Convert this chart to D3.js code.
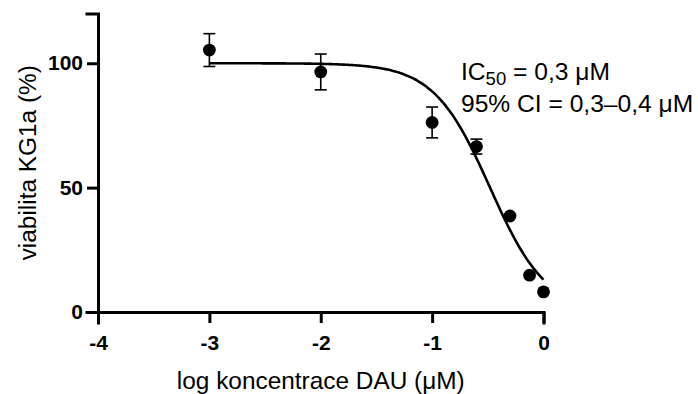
<!DOCTYPE html>
<html>
<head>
<meta charset="utf-8">
<script src="https://cdn.jsdelivr.net/npm/d3@7"></script>
<style>
  body { margin: 0; background: #fff; }
  svg { display: block; font-family: Arial, "Liberation Sans", sans-serif; }
</style>
</head>
<body>
<svg id="chart" width="698" height="394"></svg>
<script>
// data
const xTicks = [-4, -3, -2, -1, 0];
const yTicks = [0, 50, 100];
const logConc = [-3, -2, -1, -0.602, -0.301, -0.125, 0];
const viability = [105.3, 96.5, 76.2, 66.5, 38.6, 14.8, 8.1];
const errSD = [6.6, 7.2, 6.2, 3.0, 0, 0, 0];

// fitted dose-response curve parameters (as drawn)
const fitTop = 100;
const fitBottom = 0;
const fitLogIC50 = -0.48;
const fitHill = 1.72;
const fitRange = [-3, 0];

const svg = d3.select('#chart');

const x = d3.scaleLinear().domain([-4, 0]).range([98, 543.5]);
const y = d3.scaleLinear().domain([0, 120]).range([312, 13.5]);

// axes
const xAxis = svg.append('g')
  .attr('transform', `translate(0,${y(0)})`)
  .call(d3.axisBottom(x).tickValues(xTicks).tickFormat(d3.format('d')).tickSizeOuter(0).tickSize(11).tickPadding(12));
const yAxis = svg.append('g')
  .attr('transform', `translate(${x(-4)},0)`)
  .call(d3.axisLeft(y).tickValues(yTicks).tickSizeOuter(0).tickSize(11).tickPadding(4));

[xAxis, yAxis].forEach((g) => {
  g.select('.domain').attr('stroke', '#000').attr('stroke-width', 3).attr('stroke-linecap', 'square');
  g.selectAll('.tick line').attr('stroke', '#000').attr('stroke-width', 3);
  g.selectAll('.tick text')
    .attr('fill', '#000')
    .attr('font-family', 'Arial, "Liberation Sans", sans-serif')
    .attr('font-size', 21)
    .attr('font-weight', 'bold');
});
xAxis.selectAll('.tick text').text((d) => (d < 0 ? '-' + Math.abs(d) : d));

// fitted curve
const model = (t) => fitBottom + (fitTop - fitBottom) / (1 + Math.pow(10, (t - fitLogIC50) * fitHill));
const curveX = d3.range(fitRange[0], fitRange[1] + 0.0001, 0.02);
svg.append('path')
  .datum(curveX)
  .attr('fill', 'none')
  .attr('stroke', '#000')
  .attr('stroke-width', 2.6)
  .attr('d', d3.line().x((d) => x(d)).y((d) => y(model(d))).curve(d3.curveMonotoneX));

// error bars
const pts = logConc.map((c, i) => ({c: c, v: viability[i], e: errSD[i]}));
const eb = svg.append('g').attr('stroke', '#000').attr('stroke-width', 1.6);
pts.filter((d) => d.e > 0).forEach((d) => {
  eb.append('line').attr('x1', x(d.c)).attr('x2', x(d.c)).attr('y1', y(d.v + d.e)).attr('y2', y(d.v - d.e));
  [d.v + d.e, d.v - d.e].forEach((v) => {
    eb.append('line').attr('x1', x(d.c) - 6).attr('x2', x(d.c) + 6).attr('y1', y(v)).attr('y2', y(v));
  });
});

// points
svg.append('g').selectAll('circle')
  .data(pts)
  .enter()
  .append('circle')
  .attr('cx', (d) => x(d.c))
  .attr('cy', (d) => y(d.v))
  .attr('r', 6.4)
  .attr('fill', '#000');

// axis titles
svg.append('text')
  .attr('x', (x(-4) + x(0)) / 2)
  .attr('y', 389)
  .attr('text-anchor', 'middle')
  .attr('font-size', 24.4)
  .text('log koncentrace DAU (μM)');

svg.append('text')
  .attr('transform', `translate(36,${(y(0) + y(120)) / 2}) rotate(-90)`)
  .attr('text-anchor', 'middle')
  .attr('font-size', 24.4)
  .text('viabilita KG1a (%)');

// annotation
const note = svg.append('text').attr('x', 461).attr('y', 79.5).attr('font-size', 24.6);
note.append('tspan').text('IC');
note.append('tspan').attr('font-size', 18.5).attr('dy', 5).text('50');
note.append('tspan').attr('dy', -5).text(' = 0,3 μM');

svg.append('text')
  .attr('x', 461)
  .attr('y', 111.5)
  .attr('font-size', 24.6)
  .text('95% CI = 0,3–0,4 μM');
</script>
</body>
</html>
